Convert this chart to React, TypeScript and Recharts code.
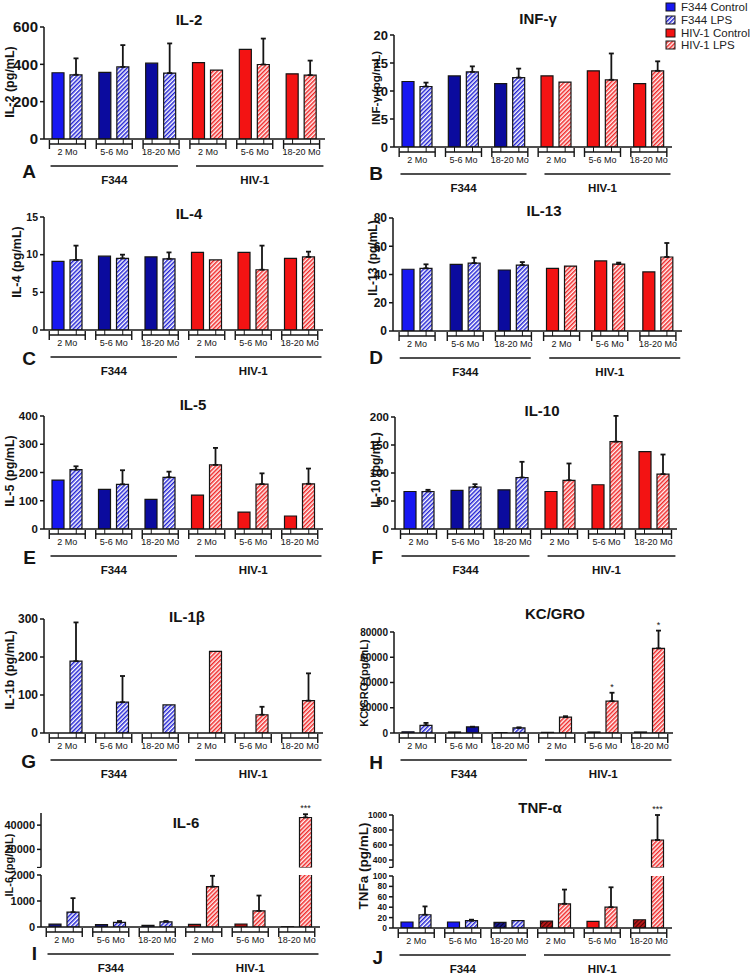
import React from "react";
import { BarChart, Bar, XAxis, YAxis, ErrorBar, Cell, LabelList } from "recharts";

// groups, in the order they are drawn
const strains = ["F344", "HIV-1"];
const ages = ["2 Mo", "5-6 Mo", "18-20 Mo"];
const legendNames = ["F344 Control", "F344 LPS", "HIV-1 Control", "HIV-1 LPS"];

// values: F344 2 / 5-6 / 18-20 Mo, then HIV-1 2 / 5-6 / 18-20 Mo
const il2Control = [355, 357, 406, 409, 480, 349];
const il2Lps = [344, 386, 353, 369, 399, 342];
const il2Err = [88, 117, 159, 0, 139, 78];

const infgControl = [11.7, 12.7, 11.3, 12.7, 13.6, 11.3];
const infgLps = [10.8, 13.4, 12.4, 11.6, 12.0, 13.6];
const infgErr = [0.7, 1.0, 1.6, 0, 4.7, 1.7];

const il4Control = [9.1, 9.8, 9.7, 10.3, 10.3, 9.5];
const il4Lps = [9.3, 9.5, 9.45, 9.3, 8.0, 9.7];
const il4Err = [1.9, 0.5, 0.85, 0, 3.2, 0.7];

const il13Control = [43.7, 47.2, 43.2, 44.4, 49.6, 41.8];
const il13Lps = [44.4, 48.1, 46.7, 46.0, 47.4, 52.4];
const il13Err = [2.8, 3.8, 2.1, 0, 1.0, 9.9];

const il5Control = [173, 140, 105, 120, 60, 46];
const il5Lps = [210, 158, 183, 227, 159, 160];
const il5Err = [12, 50, 20, 60, 38, 54];

const il10Control = [67, 69, 70, 67, 79, 138];
const il10Lps = [67, 75, 92, 87, 156, 98];
const il10Err = [3, 5, 28, 30, 46, 35];

const il1bControl = [0, 0, 0, 0, 0, 0];
const il1bLps = [189, 81, 74, 215, 48, 85];
const il1bErr = [102, 69, 0, 0, 21, 72];

const kcControl = [1000, 800, 300, 500, 800, 800];
const kcLps = [6100, 4800, 4000, 12500, 25200, 67000];
const kcErr = [1900, 200, 500, 800, 6700, 14100];
const kcSig = ["", "", "", "", "*", "*"];

const il6Control = [110, 90, 60, 100, 115, 10];
const il6Lps = [570, 180, 200, 1550, 620, 46300];
const il6Err = [540, 50, 30, 420, 590, 2700];
const il6Sig = ["", "", "", "", "", "***"];

const tnfControl = [11.5, 11.5, 10.8, 13.4, 12.7, 15.9];
const tnfLps = [25.5, 14, 14, 46.5, 40, 667];
const tnfErr = [16, 2, 0, 27.4, 38.3, 333];
const tnfSig = ["", "", "", "", "", "***"];

const FONT = "Arial, 'Liberation Sans', Helvetica, sans-serif";
const INK = "#141414";
const BLUE = "#1717f2";
const NAVY = "#0b0b9e";
const RED = "#f31313";
const DARKNAVY = "#14147c";
const DARKRED = "#a91212";

const defaultControl = [BLUE, NAVY, NAVY, RED, RED, RED];
const defaultLps = ["url(#hatchBlue)", "url(#hatchBlue)", "url(#hatchBlue)", "url(#hatchRed)", "url(#hatchRed)", "url(#hatchRed)"];
const legendFills = [BLUE, "url(#hatchBlue)", RED, "url(#hatchRed)"];

const panels: any[] = [
  { id: "A", title: "IL-2", yLabel: "IL-2 (pg/mL)", control: il2Control, lps: il2Lps, err: il2Err,
    x0: 44, x1: 325, top: 27, zero: 139, domain: [0, 600], ticks: [0, 200, 400, 600], tickFont: 15,
    titleX: 189, titleY: 19, labelX: 10, labelY: 82, labelFont: 12.5, letterX: 36, letterY: 171 },
  { id: "B", title: "INF-γ", yLabel: "INF-γ (pg/mL)", control: infgControl, lps: infgLps, err: infgErr,
    x0: 394, x1: 672, top: 35, zero: 147, domain: [0, 20], ticks: [0, 5, 10, 15, 20], tickFont: 13,
    titleX: 538, titleY: 18, labelX: 376, labelY: 88, labelFont: 11.5, letterX: 383, letterY: 173 },
  { id: "C", title: "IL-4", yLabel: "IL-4 (pg/mL)", control: il4Control, lps: il4Lps, err: il4Err,
    x0: 44, x1: 323, top: 217, zero: 330, domain: [0, 15], ticks: [0, 5, 10, 15], tickFont: 10.5,
    titleX: 189, titleY: 213, labelX: 17, labelY: 262, labelFont: 12.5, letterX: 36, letterY: 358 },
  { id: "D", title: "IL-13", yLabel: "IL-13 (pg/mL)", control: il13Control, lps: il13Lps, err: il13Err,
    x0: 393, x1: 682, top: 218, zero: 331, domain: [0, 80], ticks: [0, 20, 40, 60, 80], tickFont: 12,
    titleX: 544, titleY: 210, labelX: 373, labelY: 258, labelFont: 12, letterX: 383, letterY: 357 },
  { id: "E", title: "IL-5", yLabel: "IL-5 (pg/mL)", control: il5Control, lps: il5Lps, err: il5Err,
    x0: 44, x1: 323, top: 416, zero: 529, domain: [0, 400], ticks: [0, 100, 200, 300, 400], tickFont: 11.5,
    titleX: 193, titleY: 404, labelX: 10, labelY: 471, labelFont: 12.5, letterX: 36, letterY: 557 },
  { id: "F", title: "IL-10", yLabel: "IL-10 (pg/mL)", control: il10Control, lps: il10Lps, err: il10Err,
    x0: 395, x1: 677, top: 417, zero: 529, domain: [0, 200], ticks: [0, 50, 100, 150, 200], tickFont: 11.5,
    titleX: 542, titleY: 410, labelX: 376, labelY: 470, labelFont: 12, letterX: 383, letterY: 557 },
  { id: "G", title: "IL-1β", yLabel: "IL-1b (pg/mL)", control: il1bControl, lps: il1bLps, err: il1bErr,
    x0: 44, x1: 323, top: 619, zero: 733, domain: [0, 300], ticks: [0, 100, 200, 300], tickFont: 12,
    titleX: 187, titleY: 616, labelX: 10, labelY: 670, labelFont: 12.5, letterX: 36, letterY: 761 },
  { id: "H", title: "KC/GRO", yLabel: "KC/GRO (pg/mL)", control: kcControl, lps: kcLps, err: kcErr, sig: kcSig,
    lpsFill: ["url(#hatchBlue)", NAVY, "url(#hatchBlue)", "url(#hatchRed)", "url(#hatchRed)", "url(#hatchRed)"],
    x0: 394, x1: 673, top: 632, zero: 733, domain: [0, 80000], ticks: [0, 20000, 40000, 60000, 80000], tickFont: 10,
    titleX: 555, titleY: 613, labelX: 364, labelY: 683, labelFont: 11, letterX: 383, letterY: 762 },
  { id: "I", title: "IL-6", yLabel: "IL-6 (pg/mL)", control: il6Control, lps: il6Lps, err: il6Err, sig: il6Sig,
    controlFill: [DARKNAVY, DARKNAVY, DARKNAVY, DARKRED, DARKRED, DARKRED],
    x0: 41, x1: 320, top: 875, zero: 927, domain: [0, 2000], ticks: [0, 1000, 2000], tickFont: 11,
    upper: { top: 813, bottom: 867.6, domain: [5000, 50000], ticks: [5000, 20000, 40000] },
    titleX: 186, titleY: 822, labelX: 9, labelY: 865, labelFont: 11, letterX: 37, letterY: 953 },
  { id: "J", title: "TNF-α", yLabel: "TNFa (pg/mL)", control: tnfControl, lps: tnfLps, err: tnfErr, sig: tnfSig,
    controlFill: [BLUE, BLUE, "url(#hatchNavy)", "url(#hatchDarkRed)", RED, "url(#hatchDarkRed)"],
    x0: 393, x1: 672, top: 876, zero: 928, domain: [0, 100], ticks: [0, 20, 40, 60, 80, 100], tickFont: 8.5,
    upper: { top: 815, bottom: 867.5, domain: [300, 1000], ticks: [300, 400, 600, 800, 1000] },
    titleX: 540, titleY: 807, labelX: 363, labelY: 866, labelFont: 13.5, letterX: 383, letterY: 957 },
];

const makeRows = (p: any, part: string) => {
  const brk = p.domain[1];
  return p.control.map((c: number, i: number) => {
    const l = p.lps[i];
    const e = p.err[i];
    const sig = p.sig ? p.sig[i] : "";
    if (part === "upper") {
      return {
        age: ages[i % 3],
        control: c > brk ? c : null,
        lps: l > brk ? l : null,
        errRange: l > brk && e > 0 ? [0, e] : null,
        sigMark: l > brk && sig ? { text: sig, err: e } : null,
      };
    }
    const clipped = p.upper && l > brk;
    return {
      age: ages[i % 3],
      control: c,
      lps: l,
      errRange: e > 0 && !clipped ? [0, e] : null,
      sigMark: sig && !p.upper ? { text: sig, err: e } : null,
    };
  });
};

const GroupTick = (props: any) => {
  const { x, y, payload, band } = props;
  const index = props.index ?? payload?.index ?? 0;
  const half = 18;
  const off = 9;
  const s = Math.floor(index / 3);
  const shift = s === 1 ? 5 : 0;
  return (
    <g>
      <line x1={x - half} x2={x + half} y1={y + 5} y2={y + 5} stroke={INK} strokeWidth={1.4} />
      <line x1={x - half} x2={x - half} y1={y + 1} y2={y + 10} stroke={INK} strokeWidth={1.4} />
      <line x1={x + half} x2={x + half} y1={y + 1} y2={y + 10} stroke={INK} strokeWidth={1.4} />
      <line x1={x - off} x2={x - off} y1={y} y2={y + 5} stroke={INK} strokeWidth={1} />
      <line x1={x + off} x2={x + off} y1={y} y2={y + 5} stroke={INK} strokeWidth={1} />
      <text x={x} y={y + 16} textAnchor="middle" fontSize={9} fill={INK} fontFamily={FONT}>
        {payload.value}
      </text>
      {index % 3 === 1 && (
        <g>
          <line x1={x - 1.36 * band + shift} x2={x + 1.36 * band + shift} y1={y + 27} y2={y + 27} stroke={INK} strokeWidth={1.5} />
          <text x={x} y={y + 45} textAnchor="middle" fontSize={11.5} fontWeight={700} fill={INK} fontFamily={FONT}>
            {strains[s]}
          </text>
        </g>
      )}
    </g>
  );
};

const renderChart = (p: any, part: string) => {
  const isUpper = part === "upper";
  const top = isUpper ? p.upper.top : p.top;
  const bottom = isUpper ? p.upper.bottom : p.zero;
  const domain = isUpper ? p.upper.domain : p.domain;
  const ticks = isUpper ? p.upper.ticks : p.ticks;
  const xh = isUpper ? 0 : 60;
  const padTop = 12;
  const left = p.x0 - 60;
  const width = p.x1 - left + 12;
  const height = padTop + (bottom - top) + xh;
  const pxPerUnit = (bottom - top) / (domain[1] - domain[0]);
  const band = (p.x1 - p.x0) / 6;
  const rows = makeRows(p, part);
  const controlFill = p.controlFill || defaultControl;
  const lpsFill = p.lpsFill || defaultLps;

  const sigLabel = (lp: any) => {
    const v = lp.value;
    if (!v || !v.text) return null;
    const vb = lp.viewBox || lp;
    const cx = vb.x + vb.width / 2;
    const yTop = vb.y - v.err * pxPerUnit;
    return (
      <text x={cx} y={yTop - 3} textAnchor="middle" fontSize={9} fill={INK} fontFamily={FONT}>
        {v.text}
      </text>
    );
  };

  return (
    <div key={p.id + part} style={{ position: "absolute", left, top: top - padTop }}>
      <BarChart width={width} height={height} data={rows} margin={{ top: padTop, right: 12, bottom: 0, left: 0 }} barSize={12} barGap={6}>
        <XAxis
          dataKey="age"
          hide={isUpper}
          height={xh}
          interval={0}
          tickLine={false}
          tickSize={0}
          tickMargin={0}
          axisLine={{ stroke: INK, strokeWidth: 1.5 }}
          tick={(tp: any) => <GroupTick {...tp} band={band} />}
        />
        <YAxis
          width={60}
          type="number"
          domain={domain}
          ticks={ticks}
          allowDataOverflow
          interval={0}
          tickSize={4}
          tickMargin={2}
          axisLine={{ stroke: INK, strokeWidth: 1.5 }}
          tickLine={{ stroke: INK, strokeWidth: 1.5 }}
          tick={{ fontSize: p.tickFont, fontWeight: 700, fill: INK, fontFamily: FONT }}
          tickFormatter={(v: number) => (isUpper && v === domain[0] ? "" : String(v))}
        />
        <Bar dataKey="control" stroke={INK} strokeWidth={1.2} isAnimationActive={false}>
          {rows.map((_r: any, i: number) => (
            <Cell key={"c" + i} fill={controlFill[i]} />
          ))}
        </Bar>
        <Bar dataKey="lps" stroke={INK} strokeWidth={1.2} isAnimationActive={false}>
          {rows.map((_r: any, i: number) => (
            <Cell key={"l" + i} fill={lpsFill[i]} />
          ))}
          <ErrorBar dataKey="errRange" width={2.5} strokeWidth={1.8} stroke={INK} direction="y" isAnimationActive={false} />
          <LabelList dataKey="sigMark" content={sigLabel} />
        </Bar>
      </BarChart>
    </div>
  );
};

const Overlay = () => (
  <svg width={751} height={977} style={{ position: "absolute", left: 0, top: 0 }}>
    <defs>
      <pattern id="hatchBlue" width="3" height="3" patternUnits="userSpaceOnUse" patternTransform="rotate(45)">
        <rect width="3" height="3" fill="#ffffff" />
        <rect width="1.5" height="3" fill="#2222d4" />
      </pattern>
      <pattern id="hatchRed" width="3" height="3" patternUnits="userSpaceOnUse" patternTransform="rotate(45)">
        <rect width="3" height="3" fill="#fff4f4" />
        <rect width="1.5" height="3" fill="#f02828" />
      </pattern>
      <pattern id="hatchNavy" width="3" height="3" patternUnits="userSpaceOnUse" patternTransform="rotate(45)">
        <rect width="3" height="3" fill="#1a1a90" />
        <rect width="1.2" height="3" fill="#05052a" />
      </pattern>
      <pattern id="hatchDarkRed" width="3" height="3" patternUnits="userSpaceOnUse" patternTransform="rotate(45)">
        <rect width="3" height="3" fill="#c01818" />
        <rect width="1.2" height="3" fill="#4a0505" />
      </pattern>
    </defs>
    {panels.map((p) => (
      <g key={p.id} fontFamily={FONT} fill={INK}>
        <text x={p.titleX} y={p.titleY} textAnchor="middle" dominantBaseline="central" fontSize={15} fontWeight={700}>
          {p.title}
        </text>
        <text
          x={p.labelX}
          y={p.labelY}
          textAnchor="middle"
          dominantBaseline="central"
          fontSize={p.labelFont}
          fontWeight={700}
          transform={`rotate(-90 ${p.labelX} ${p.labelY})`}
        >
          {p.yLabel}
        </text>
        <text x={p.letterX} y={p.letterY} textAnchor="end" dominantBaseline="central" fontSize={19} fontWeight={700}>
          {p.id}
        </text>
      </g>
    ))}
    {legendNames.map((name, i) => (
      <g key={name} fontFamily={FONT}>
        <rect x={666} y={[7, 20, 33, 45][i] - 4} width={9} height={8} fill={legendFills[i]} stroke={INK} strokeWidth={1} />
        <text x={681} y={[7, 20, 33, 45][i]} dominantBaseline="central" fontSize={11.5} fill="#222">
          {name}
        </text>
      </g>
    ))}
  </svg>
);

export default function App() {
  return (
    <div style={{ position: "absolute", left: 0, top: 0, width: 751, height: 977, background: "#fff", fontFamily: FONT }}>
      <Overlay />
      {panels.map((p) => renderChart(p, "lower"))}
      {panels.filter((p) => p.upper).map((p) => renderChart(p, "upper"))}
    </div>
  );
}
